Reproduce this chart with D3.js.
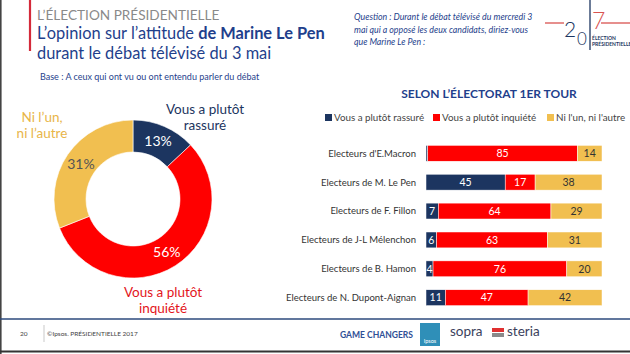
<!DOCTYPE html>
<html>
<head>
<meta charset="utf-8">
<script src="https://cdn.jsdelivr.net/npm/d3@7"></script>
<style>
  body { margin: 0; background: #fff; }
  svg { display: block; font-family: Lato, "Open Sans", sans-serif; }
</style>
</head>
<body>
<div id="chart"></div>
<script>
// donnees
const donutLabels = ["Vous a plutôt rassuré", "Vous a plutôt inquiété", "Ni l'un, ni l'autre"];
const donutValues = [13, 56, 31];

const electorats = ["Electeurs d'E.Macron", "Electeurs de M. Le Pen", "Electeurs de F. Fillon",
  "Electeurs de J-L Mélenchon", "Electeurs de B. Hamon", "Electeurs de N. Dupont-Aignan"];
const rassure = [1, 45, 7, 6, 4, 11];
const inquiete = [85, 17, 64, 63, 76, 47];
const niUnNiAutre = [14, 38, 29, 31, 20, 42];

const W = 630, H = 354;
const navy = "#1c3560", rouge = "#ff0000", jaune = "#f1bf50", titreBleu = "#1f3f8c";

const svg = d3.select("#chart").append("svg").attr("width", W).attr("height", H);

// cadre
svg.append("line").attr("x1", 0.8).attr("x2", 0.8).attr("y1", 0).attr("y2", H).attr("stroke", "#444").attr("stroke-width", 1.6);
svg.append("line").attr("x1", 0).attr("x2", W).attr("y1", 351.5).attr("y2", 351.5).attr("stroke", "#333").attr("stroke-width", 2);

// === EN-TETE ===
svg.append("line").attr("x1", 30).attr("x2", 30).attr("y1", 0).attr("y2", 51).attr("stroke", "#d42a3a").attr("stroke-width", 2.2);
svg.append("text").attr("x", 37).attr("y", 20).attr("fill", "#8a8a8a").style("font-size", "13.6px").text("L’ÉLECTION PRÉSIDENTIELLE");
const t1 = svg.append("text").attr("x", 37).attr("y", 39).attr("fill", titreBleu).style("font-size", "16.4px");
t1.append("tspan").text("L’opinion sur l’attitude ");
t1.append("tspan").style("font-weight", "bold").text("de Marine Le Pen");
svg.append("text").attr("x", 37).attr("y", 59).attr("fill", titreBleu).style("font-size", "16.4px").text("durant le débat télévisé du 3 mai");
svg.append("text").attr("x", 40).attr("y", 80).attr("fill", titreBleu).style("font-size", "9px").text("Base : A ceux qui ont vu ou ont entendu parler du débat");

const question = ["Question : Durant le débat télévisé du mercredi 3", "mai qui a opposé les deux candidats, diriez-vous", "que Marine Le Pen :"];
svg.append("g").selectAll("text").data(question).join("text")
  .attr("x", 354).attr("y", (d, i) => 20 + i * 12.5)
  .attr("fill", titreBleu).style("font-size", "8.8px").style("font-style", "italic").text(d => d);

// logo 2017
const logo = svg.append("g");
logo.append("line").attr("x1", 545).attr("x2", 564).attr("y1", 23).attr("y2", 23).attr("stroke", "#d9534f").attr("stroke-width", 1.3);
logo.append("line").attr("x1", 601).attr("x2", 630).attr("y1", 23).attr("y2", 23).attr("stroke", "#d9534f").attr("stroke-width", 1.3);
logo.append("line").attr("x1", 590).attr("x2", 590).attr("y1", 0).attr("y2", 50).attr("stroke", navy).attr("stroke-width", 1.3);
logo.append("text").attr("x", 564).attr("y", 37).attr("fill", navy).style("font-size", "21px").style("font-weight", "300").text("2");
logo.append("text").attr("x", 577).attr("y", 45).attr("fill", navy).style("font-size", "17px").style("font-weight", "300").text("0");
logo.append("text").attr("x", 592).attr("y", 29).attr("fill", "#d9534f").style("font-size", "23px").style("font-weight", "300").text("7");
logo.append("text").attr("x", 592).attr("y", 40).attr("fill", navy).style("font-size", "5px").style("font-weight", "bold").text("ÉLECTION");
logo.append("text").attr("x", 592).attr("y", 46).attr("fill", navy).style("font-size", "5px").style("font-weight", "bold").text("PRÉSIDENTIELLE");

// === DONUT ===
const cx = 133, cy = 199, rOut = 79, rIn = 47;
const couleursDonut = [navy, rouge, jaune];
const pie = d3.pie().sort(null).value(d => d)(donutValues);
const arc = d3.arc().innerRadius(rIn).outerRadius(rOut);
const gDonut = svg.append("g").attr("transform", `translate(${cx},${cy})`);
gDonut.selectAll("path").data(pie).join("path")
  .attr("d", arc).attr("fill", (d, i) => couleursDonut[i]).attr("stroke", "#fff").attr("stroke-width", 0.6);
const arcLabel = d3.arc().innerRadius(63).outerRadius(63);
const couleurTexteDonut = ["#fff", "#fff", "#555"];
gDonut.selectAll("text").data(pie).join("text")
  .attr("transform", d => {
    const [x, y] = arcLabel.centroid(d);
    return `translate(${x},${y})`;
  })
  .attr("text-anchor", "middle").attr("dy", "0.36em")
  .attr("fill", (d, i) => couleurTexteDonut[i])
  .style("font-size", "14px")
  .text(d => d.data + "%");

const etiquettes = [
  { lignes: ["Vous a plutôt", "rassuré"], x: 205, y: 114, c: navy },
  { lignes: ["Vous a plutôt", "inquiété"], x: 163, y: 297, c: "#e3141b" },
  { lignes: ["Ni l’un,", "ni l’autre"], x: 42, y: 122, c: "#e8b548" }
];
etiquettes.forEach(e => {
  svg.append("g").selectAll("text").data(e.lignes).join("text")
    .attr("x", e.x).attr("y", (d, i) => e.y + i * 16)
    .attr("text-anchor", "middle").attr("fill", e.c).style("font-size", "13.5px").text(d => d);
});

// === BARRES EMPILEES ===
svg.append("text").attr("x", 489).attr("y", 98).attr("text-anchor", "middle")
  .attr("fill", titreBleu).style("font-size", "12px").style("font-weight", "bold").text("SELON L’ÉLECTORAT 1ER TOUR");

const legende = [
  { t: "Vous a plutôt rassuré", c: navy, x: 325 },
  { t: "Vous a plutôt inquiété", c: rouge, x: 433 },
  { t: "Ni l'un, ni l'autre", c: jaune, x: 547 }
];
legende.forEach(l => {
  svg.append("rect").attr("x", l.x).attr("y", 114).attr("width", 7).attr("height", 7).attr("fill", l.c);
  svg.append("text").attr("x", l.x + 9).attr("y", 121).attr("fill", "#444").style("font-size", "9.8px").text(l.t);
});

const x = d3.scaleLinear().domain([0, 100]).range([426, 602]);
const y = d3.scaleBand().domain(electorats).range([139, 312]).paddingInner(0.45).paddingOuter(0.22);

const series = [
  { vals: rassure, c: navy, tc: "#fff" },
  { vals: inquiete, c: rouge, tc: "#fff" },
  { vals: niUnNiAutre, c: jaune, tc: "#333" }
];
const gBar = svg.append("g");
electorats.forEach((cat, i) => {
  let cumul = 0;
  series.forEach(s => {
    const v = s.vals[i];
    gBar.append("rect")
      .attr("x", x(cumul)).attr("y", y(cat))
      .attr("width", x(cumul + v) - x(cumul)).attr("height", y.bandwidth())
      .attr("fill", s.c).attr("stroke", "#fff").attr("stroke-width", 0.5);
    gBar.append("text")
      .attr("x", v < 3 ? x(cumul) + 1 : x(cumul + v / 2))
      .attr("y", y(cat) + y.bandwidth() / 2).attr("dy", "0.36em")
      .attr("text-anchor", v < 3 ? "start" : "middle")
      .attr("fill", v < 3 ? navy : s.tc).style("font-size", v < 3 ? "8px" : "10.5px")
      .text(v);
    cumul += v;
  });
});
svg.append("g").selectAll("text").data(electorats).join("text")
  .attr("x", 416).attr("y", d => y(d) + y.bandwidth() / 2).attr("dy", "0.36em")
  .attr("text-anchor", "end").attr("fill", "#333").style("font-size", "9.5px").text(d => d);

// === PIED DE PAGE ===
svg.append("line").attr("x1", 0).attr("x2", W).attr("y1", 319).attr("y2", 319).attr("stroke", "#2c4a7c").attr("stroke-width", 1.6);
svg.append("text").attr("x", 20).attr("y", 336).attr("fill", "#444").style("font-size", "6.5px").text("20");
svg.append("line").attr("x1", 44).attr("x2", 44).attr("y1", 325).attr("y2", 342).attr("stroke", "#bbb").attr("stroke-width", 0.8);
svg.append("text").attr("x", 47).attr("y", 336).attr("fill", "#444").style("font-size", "6.5px").text("©Ipsos.  PRÉSIDENTIELLE 2017");
svg.append("text").attr("x", 340).attr("y", 338).attr("fill", "#2f4f96").style("font-size", "9px").style("font-weight", "bold")
  .attr("textLength", 73).attr("lengthAdjust", "spacingAndGlyphs").text("GAME CHANGERS");
svg.append("rect").attr("x", 420).attr("y", 323).attr("width", 20).attr("height", 23).attr("fill", "#2f8fb8");
svg.append("text").attr("x", 430).attr("y", 343).attr("text-anchor", "middle").attr("fill", "#fff").style("font-size", "5.5px").text("Ipsos");
svg.append("text").attr("x", 450).attr("y", 336).attr("fill", "#3b3f5c").style("font-size", "13.5px").text("sopra");
svg.append("rect").attr("x", 492).attr("y", 328).attr("width", 12).attr("height", 4).attr("fill", "#e03030");
svg.append("rect").attr("x", 492).attr("y", 333).attr("width", 12).attr("height", 4).attr("fill", "#8a8a8a");
svg.append("text").attr("x", 507).attr("y", 336).attr("fill", "#3b3f5c").style("font-size", "13.5px").text("steria");
</script>
</body>
</html>
